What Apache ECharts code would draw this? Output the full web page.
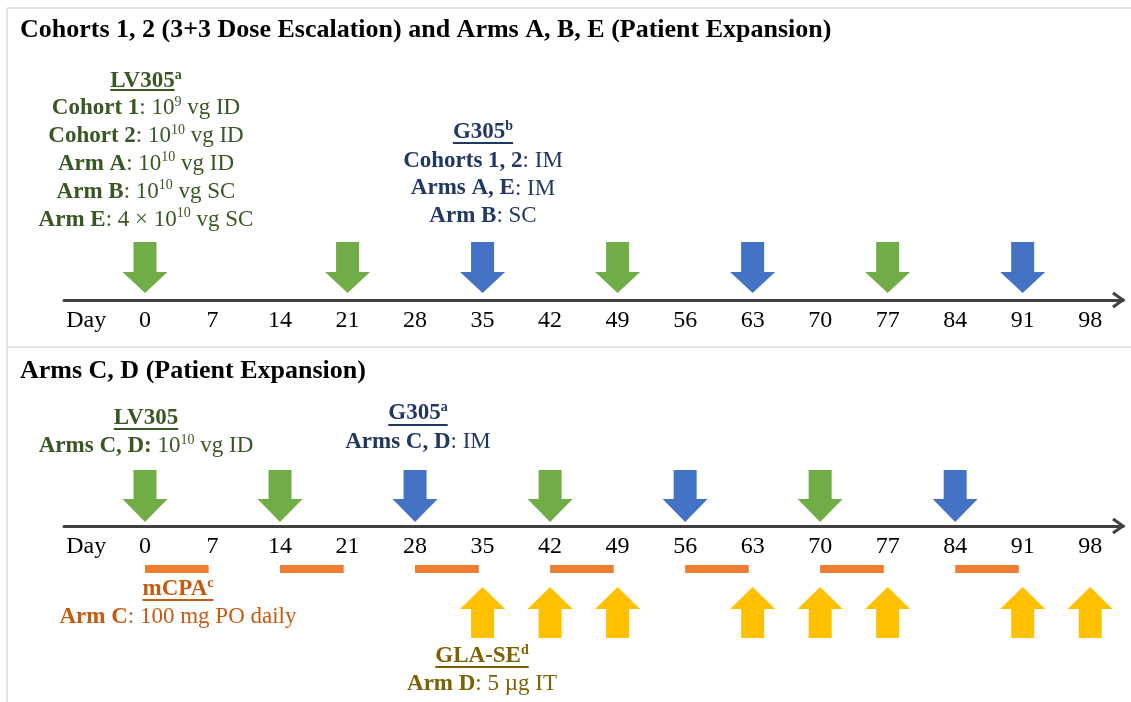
<!DOCTYPE html>
<html><head><meta charset="utf-8">
<script src="https://cdn.jsdelivr.net/npm/echarts@6/dist/echarts.min.js"></script>
<style>html,body{margin:0;padding:0;background:#fff}#c{width:1131px;height:702px}</style>
</head><body><div id="c"></div>
<script>
// ---------------- data ----------------
const tickDays = [0, 7, 14, 21, 28, 35, 42, 49, 56, 63, 70, 77, 84, 91, 98];
const tickLabels = ['0','7','14','21','28','35','42','49','56','63','70','77','84','91','98'];
const dayLabel = 'Day';
const topTitle = 'Cohorts 1, 2 (3+3 Dose Escalation) and Arms A, B, E (Patient Expansion)';
const bottomTitle = 'Arms C, D (Patient Expansion)';
// Panel 1 (Cohorts 1, 2 and Arms A, B, E)
const p1LV305Days = [0, 21, 49, 77];
const p1G305Days = [35, 63, 91];
// Panel 2 (Arms C, D)
const p2LV305Days = [0, 14, 42, 70];
const p2G305Days = [28, 56, 84];
const mcpaStart = [0, 14, 28, 42, 56, 70, 84];
const mcpaEnd = [6.6, 20.6, 34.6, 48.6, 62.6, 76.6, 90.6];
const glaSEDays = [35, 42, 49, 63, 70, 77, 91, 98];
// Annotation texts: [bold, normal, superscript, normal]
const p1LV305Lines = [
  ['Cohort 1', ': 10', '9', ' vg ID'],
  ['Cohort 2', ': 10', '10', ' vg ID'],
  ['Arm A', ': 10', '10', ' vg ID'],
  ['Arm B', ': 10', '10', ' vg SC'],
  ['Arm E', ': 4 × 10', '10', ' vg SC']
];
const p1G305Lines = [
  ['Cohorts 1, 2', ': IM', '', ''],
  ['Arms A, E', ': IM', '', ''],
  ['Arm B', ': SC', '', '']
];
const p2LV305Lines = [['Arms C, D:', ' 10', '10', ' vg ID']];
const p2G305Lines = [['Arms C, D', ': IM', '', '']];
const mcpaLines = [['Arm C', ': 100 mg PO daily', '', '']];
const glaLines = [['Arm D', ': 5 µg IT', '', '']];

// ---------------- style ----------------
const FONT = "'Liberation Serif', 'Times New Roman', serif";
const GREEN = '#70AD47', BLUE = '#4472C4', ORANGE = '#ED7D31', YELLOW = '#FFC000';
const T_GREEN = '#385723', T_BLUE = '#203864', T_ORANGE = '#C55A11', T_GOLD = '#7F6000';
const AXIS_COLOR = '#404040';
const AX_MIN = -8.4, AX_MAX = 101.4, DAY_AT = -6.1;
const FS = 23, SUP = 14;

const chart = echarts.init(document.getElementById('c'));

function xAxisCfg(gi) {
  return {
    type: 'value', gridIndex: gi, min: AX_MIN, max: AX_MAX,
    axisLine: { show: true, onZero: false, lineStyle: { color: AXIS_COLOR, width: 3 } },
    axisTick: { show: false },
    splitLine: { show: false },
    axisLabel: {
      customValues: [DAY_AT].concat(tickDays),
      formatter: function (v) {
        const i = tickDays.indexOf(v);
        return i >= 0 ? tickLabels[i] : dayLabel;
      },
      color: '#000', fontSize: 24, fontFamily: FONT, margin: 9,
      showMinLabel: true, showMaxLabel: true
    }
  };
}

function downArrows(gi, days, color, dTop, dHead, dTip) {
  return {
    type: 'custom', xAxisIndex: gi, yAxisIndex: gi, clip: false, silent: true,
    data: days.map(d => [d, 0]),
    renderItem: function (params, api) {
      const p = api.coord([api.value(0), 0]);
      const x = p[0], y = p[1], sw = 11.5, hw = 22.5;
      return { type: 'polygon', shape: { points: [
        [x - sw, y + dTop], [x + sw, y + dTop], [x + sw, y + dHead], [x + hw, y + dHead],
        [x, y + dTip], [x - hw, y + dHead], [x - sw, y + dHead]] }, style: { fill: color } };
    }
  };
}
function upArrows(gi, days, color, dTip, dHead, dBot) {
  return {
    type: 'custom', xAxisIndex: gi, yAxisIndex: gi, clip: false, silent: true,
    data: days.map(d => [d, 0]),
    renderItem: function (params, api) {
      const p = api.coord([api.value(0), 0]);
      const x = p[0], y = p[1], sw = 11.5, hw = 22.5;
      return { type: 'polygon', shape: { points: [
        [x, y + dTip], [x + hw, y + dHead], [x + sw, y + dHead], [x + sw, y + dBot],
        [x - sw, y + dBot], [x - sw, y + dHead], [x - hw, y + dHead]] }, style: { fill: color } };
    }
  };
}
function bars(gi, starts, ends, color, d0, d1) {
  return {
    type: 'custom', xAxisIndex: gi, yAxisIndex: gi, clip: false, silent: true,
    data: starts.map((s, i) => [s, ends[i], 0]),
    encode: { x: [0, 1], y: 2 },
    renderItem: function (params, api) {
      const a = api.coord([api.value(0), 0]), b = api.coord([api.value(1), 0]);
      return { type: 'rect', shape: { x: a[0], y: a[1] + d0, width: b[0] - a[0], height: d1 - d0 }, style: { fill: color } };
    }
  };
}
function chevron(gi) {
  return {
    type: 'custom', xAxisIndex: gi, yAxisIndex: gi, clip: false, silent: true,
    data: [[AX_MAX, 0]],
    renderItem: function (params, api) {
      const p = api.coord([api.value(0), 0]);
      return { type: 'polyline', shape: { points: [[p[0] - 10, p[1] - 7], [p[0], p[1]], [p[0] - 10, p[1] + 7]] },
        style: { stroke: AXIS_COLOR, lineWidth: 3, fill: null } };
    }
  };
}

// ---------- text helpers ----------
const ctx = document.createElement('canvas').getContext('2d');
function measure(text, size, bold) {
  ctx.font = (bold ? 'bold ' : '') + size + 'px ' + FONT;
  return ctx.measureText(text).width;
}
const rich = {
  b: { fontFamily: FONT, fontWeight: 'bold', fontSize: FS, lineHeight: 26 },
  n: { fontFamily: FONT, fontWeight: 'normal', fontSize: FS, lineHeight: 26 },
  s: { fontFamily: FONT, fontWeight: 'normal', fontSize: SUP, lineHeight: 15, verticalAlign: 'top' },
  sb: { fontFamily: FONT, fontWeight: 'bold', fontSize: SUP, lineHeight: 15, verticalAlign: 'top' }
};
function lineText(x, y, parts, color) {
  let t = '{b|' + parts[0] + '}{n|' + parts[1] + '}';
  if (parts[2]) t += '{s|' + parts[2] + '}';
  if (parts[3]) t += '{n|' + parts[3] + '}';
  return { type: 'text', x: x, y: y, silent: true,
    style: { text: t, rich: rich, fill: color, align: 'center', verticalAlign: 'middle' } };
}
function heading(x, y, uy, main, sup, color, ulSup) {
  const wm = measure(main, FS, true), ws = sup ? measure(sup, SUP, true) : 0;
  const left = x - (wm + ws) / 2;
  const t = '{b|' + main + '}' + (sup ? '{sb|' + sup + '}' : '');
  return [
    { type: 'text', x: x, y: y, silent: true, style: { text: t, rich: rich, fill: color, align: 'center', verticalAlign: 'middle' } },
    { type: 'line', silent: true, shape: { x1: left, y1: uy, x2: left + wm + (ulSup ? ws : 0), y2: uy }, style: { stroke: color, lineWidth: 2 } }
  ];
}
function block(x, yStart, step, lines, color) {
  return lines.map((p, i) => lineText(x, yStart + i * step, p, color));
}

const graphics = [].concat(
  [
    { type: 'line', silent: true, shape: { x1: 7, y1: 8, x2: 1131, y2: 8 }, style: { stroke: '#e4e4e4', lineWidth: 2 } },
    { type: 'line', silent: true, shape: { x1: 7, y1: 8, x2: 7, y2: 702 }, style: { stroke: '#e4e4e4', lineWidth: 2 } },
    { type: 'line', silent: true, shape: { x1: 7, y1: 347, x2: 1131, y2: 347 }, style: { stroke: '#e4e4e4', lineWidth: 2 } },
    { type: 'text', x: 20, y: 30, silent: true, style: { text: topTitle, font: 'bold 26px ' + FONT, fill: '#000', verticalAlign: 'middle' } },
    { type: 'text', x: 20, y: 371, silent: true, style: { text: bottomTitle, font: 'bold 26px ' + FONT, fill: '#000', verticalAlign: 'middle' } }
  ],
  heading(146, 81, 90, 'LV305', 'a', T_GREEN, false),
  block(146, 108, 27.9, p1LV305Lines, T_GREEN),
  heading(483, 132, 143, 'G305', 'b', T_BLUE, true),
  block(483, 161, 27.5, p1G305Lines, T_BLUE),
  heading(146, 418, 429, 'LV305', '', T_GREEN, false),
  block(146, 446, 28, p2LV305Lines, T_GREEN),
  heading(418, 413, 425, 'G305', 'a', T_BLUE, true),
  block(418, 442, 28, p2G305Lines, T_BLUE),
  heading(178, 589, 600, 'mCPA', 'c', T_ORANGE, true),
  block(178, 617, 28, mcpaLines, T_ORANGE),
  heading(482, 656, 667, 'GLA-SE', 'd', T_GOLD, true),
  block(482, 684, 28, glaLines, T_GOLD)
);

chart.setOption({
  animation: false,
  backgroundColor: '#fff',
  grid: [
    { left: 64, right: 8, top: 230, height: 70 },
    { left: 64, right: 8, top: 456, height: 70 }
  ],
  xAxis: [xAxisCfg(0), xAxisCfg(1)],
  yAxis: [
    { type: 'value', gridIndex: 0, min: 0, max: 1, show: false },
    { type: 'value', gridIndex: 1, min: 0, max: 1, show: false }
  ],
  series: [
    downArrows(0, p1LV305Days, GREEN, -58, -28, -7),
    downArrows(0, p1G305Days, BLUE, -58, -28, -7),
    chevron(0),
    downArrows(1, p2LV305Days, GREEN, -56, -27, -4),
    downArrows(1, p2G305Days, BLUE, -56, -27, -4),
    bars(1, mcpaStart, mcpaEnd, ORANGE, 39, 47),
    upArrows(1, glaSEDays, YELLOW, 61, 83, 112),
    chevron(1)
  ],
  graphic: graphics
});
</script>
</body></html>
